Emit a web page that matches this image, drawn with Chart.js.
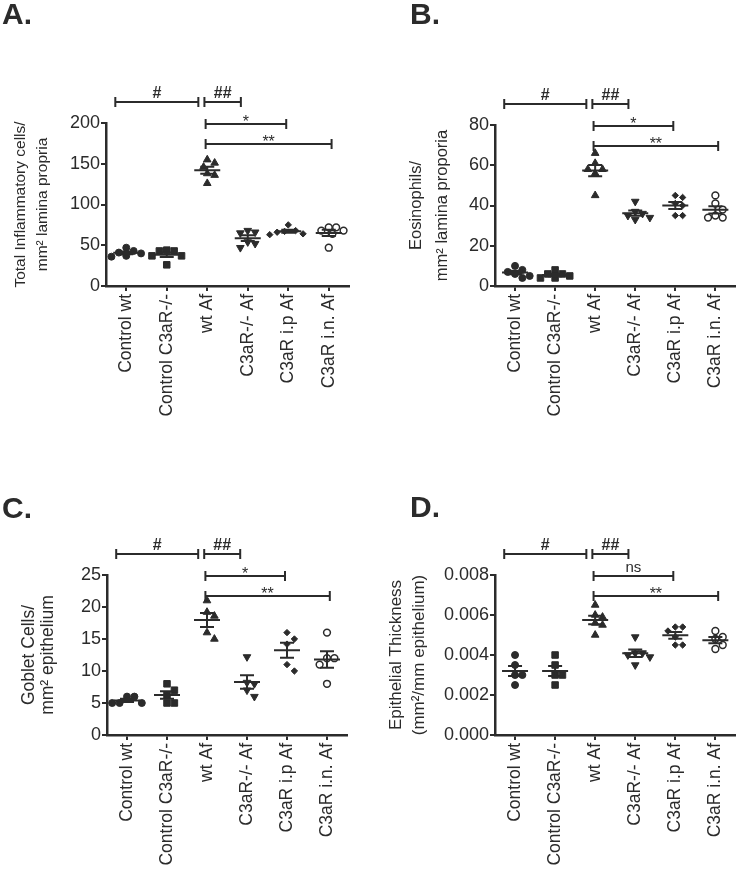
<!DOCTYPE html>
<html>
<head>
<meta charset="utf-8">
<script src="https://cdn.jsdelivr.net/npm/chart.js@4.4.0/dist/chart.umd.min.js"></script>
<style>
  html, body { margin: 0; padding: 0; background: #fff; }
  #wrap { position: relative; width: 741px; height: 869px; }
  canvas { position: absolute; }
</style>
</head>
<body>
<div id="wrap">
  <canvas id="chartA" width="370" height="440" style="left:0;top:0"></canvas>
  <canvas id="chartB" width="371" height="440" style="left:370px;top:0"></canvas>
  <canvas id="chartC" width="370" height="429" style="left:0;top:440px"></canvas>
  <canvas id="chartD" width="371" height="429" style="left:370px;top:440px"></canvas>
</div>
<script>
// groups on the x axis
const groupLabels = ["Control wt", "Control C3aR-/-", "wt Af", "C3aR-/- Af", "C3aR i.p Af", "C3aR i.n. Af"];

// one list of animals per group
const totalInflammatory = [
  [47, 43, 41, 40, 37, 36],
  [43, 44, 43, 37, 37, 26],
  [151, 155, 146, 138, 136, 126],
  [66, 65, 68, 54, 52, 47],
  [75, 68, 67, 66, 64, 63],
  [68, 72, 72, 68, 64, 47]
];
const eosinophils = [
  [10, 8, 7, 6, 5, 4],
  [8, 6, 6, 5, 4, 4],
  [66, 61, 58, 58, 56, 45],
  [42, 37, 36, 35, 34, 33],
  [45, 44, 41, 40, 35, 35],
  [45, 41, 38, 35, 34, 34]
];
const gobletCells = [
  [6, 6, 5, 5, 5],
  [8, 7, 6.2, 5, 5],
  [21, 19.2, 18.6, 16, 15],
  [12.2, 8.2, 8, 7, 6],
  [16, 15, 14.2, 11, 10],
  [16, 12, 12, 11, 8]
];
const epithelialThickness = [
  [0.0040, 0.0035, 0.0030, 0.0030, 0.0025],
  [0.0040, 0.0035, 0.0030, 0.0030, 0.0025],
  [0.0065, 0.0060, 0.0059, 0.0056, 0.0055, 0.0050],
  [0.0049, 0.0041, 0.0041, 0.0040, 0.0039, 0.0035],
  [0.0054, 0.0054, 0.0052, 0.0049, 0.0045, 0.0045],
  [0.0052, 0.0049, 0.0048, 0.0045, 0.0043]
];

const INK = "#2b2b2b";
const FONT = 'Arial, "Liberation Sans", Helvetica, sans-serif';

// marker per group
const markers = [
  { style: "circle", r: 3.5, fill: INK, bw: 1 },
  { style: "rect", r: 4.6, fill: INK, bw: 1 },
  { style: "triangle", r: 4.4, fill: INK, bw: 1 },
  { style: "triangle", r: 4.4, rot: 180, fill: INK, bw: 1 },
  { style: "rectRot", r: 3.2, fill: INK, bw: 1 },
  { style: "circle", r: 3.4, fill: "#fff", bw: 1.5 }
];

// spread points that would overlap sideways (pixels -> category units)
function swarm(vals, pxY, pxX) {
  const D = 7.4, step = 3.7;
  const placed = [];
  const out = new Array(vals.length);
  const order = vals.map((v, i) => i).sort((a, b) => vals[b] - vals[a]);
  order.forEach(i => {
    const yp = vals[i] * pxY;
    for (let k = 0; k < 40; k++) {
      const off = (k % 2 ? 1 : -1) * Math.ceil(k / 2) * step;
      if (placed.every(p => (p.x - off) ** 2 + (p.y - yp) ** 2 >= D * D)) {
        placed.push({ x: off, y: yp });
        out[i] = off / pxX;
        break;
      }
    }
  });
  return out;
}

function meanSem(groups) {
  return {
    id: "meanSem",
    afterDatasetsDraw(chart) {
      const { ctx, scales: { x, y } } = chart;
      ctx.save();
      ctx.strokeStyle = INK;
      ctx.lineWidth = 2;
      groups.forEach((vals, i) => {
        const n = vals.length;
        const mean = vals.reduce((a, b) => a + b, 0) / n;
        const sd = Math.sqrt(vals.reduce((a, b) => a + (b - mean) ** 2, 0) / (n - 1));
        const sem = sd / Math.sqrt(n);
        const cx = x.getPixelForValue(i);
        const ym = y.getPixelForValue(mean);
        const yt = y.getPixelForValue(mean + sem);
        const yb = y.getPixelForValue(mean - sem);
        ctx.beginPath();
        ctx.moveTo(cx - 13, ym); ctx.lineTo(cx + 13, ym);
        ctx.moveTo(cx - 7, yt); ctx.lineTo(cx + 7, yt);
        ctx.moveTo(cx - 7, yb); ctx.lineTo(cx + 7, yb);
        ctx.moveTo(cx, yt); ctx.lineTo(cx, yb);
        ctx.stroke();
      });
      ctx.restore();
    }
  };
}

function brackets(list, letter, lx, ly) {
  return {
    id: "brackets",
    afterDraw(chart) {
      const { ctx, chartArea, scales: { x } } = chart;
      ctx.save();
      ctx.strokeStyle = INK;
      ctx.fillStyle = INK;
      ctx.lineWidth = 2;
      ctx.textAlign = "center";
      ctx.textBaseline = "alphabetic";
      list.forEach(b => {
        const x1 = x.getPixelForValue(b.from);
        const x2 = x.getPixelForValue(b.to);
        const yy = chartArea.top + b.dy;
        ctx.beginPath();
        ctx.moveTo(x1, yy); ctx.lineTo(x2, yy);
        ctx.moveTo(x1, yy - 5); ctx.lineTo(x1, yy + 5);
        ctx.moveTo(x2, yy - 5); ctx.lineTo(x2, yy + 5);
        ctx.stroke();
        if (b.label[0] === "#") {
          ctx.font = "bold 16px " + FONT;
          ctx.fillText(b.label, (x1 + x2) / 2, yy - 4);
        } else if (b.label[0] === "*") {
          ctx.font = "16px " + FONT;
          ctx.fillText(b.label, (x1 + x2) / 2, yy + 2.5);
        } else {
          ctx.font = "15px " + FONT;
          ctx.fillText(b.label, (x1 + x2) / 2, yy - 4);
        }
      });
      ctx.font = "bold 30px " + FONT;
      ctx.textAlign = "left";
      ctx.fillText(letter, lx, ly);
      ctx.restore();
    }
  };
}

function sigList(third) {
  return [
    { from: -0.27, to: 1.78, dy: -21, label: "#" },
    { from: 1.93, to: 2.83, dy: -21, label: "##" },
    { from: 1.96, to: 3.95, dy: 1, label: third },
    { from: 1.96, to: 5.07, dy: 21, label: "**" }
  ];
}

function makePanel(p) {
  const canvas = document.getElementById(p.id);
  const W = canvas.width, H = canvas.height, a = p.area;
  const pxY = (a.bottom - a.top) / p.yMax;
  const pxX = (a.right - a.left) / groupLabels.length;

  const datasets = p.data.map((vals, i) => {
    const offs = swarm(vals, pxY, pxX);
    const m = markers[i];
    return {
      label: groupLabels[i],
      data: vals.map((v, j) => ({ x: i + offs[j], y: v })),
      pointStyle: m.style,
      pointRadius: m.r,
      pointRotation: m.rot || 0,
      pointBackgroundColor: m.fill,
      pointBorderColor: INK,
      pointBorderWidth: m.bw
    };
  });

  new Chart(canvas, {
    type: "scatter",
    data: { datasets },
    plugins: [meanSem(p.data), brackets(sigList(p.third), p.letter, p.lx, p.ly)],
    options: {
      responsive: false,
      animation: false,
      events: [],
      layout: { padding: { left: 0, top: a.top, right: W - a.right, bottom: 0 } },
      plugins: { legend: { display: false }, tooltip: { enabled: false } },
      scales: {
        x: {
          type: "linear",
          min: -0.5,
          max: 5.5,
          afterBuildTicks: s => { s.ticks = groupLabels.map((_, i) => ({ value: i })); },
          afterFit: s => { s.height = H - a.bottom; },
          ticks: {
            callback: v => groupLabels[v],
            minRotation: 90,
            maxRotation: 90,
            autoSkip: false,
            color: INK,
            padding: 3,
            font: { family: FONT, size: 17.5 }
          },
          grid: { drawOnChartArea: false, tickLength: 5, color: INK, lineWidth: 2 },
          border: { color: INK, width: 2.5 }
        },
        y: {
          min: 0,
          max: p.yMax,
          afterFit: s => { s.width = a.left; },
          ticks: {
            stepSize: p.step,
            color: INK,
            padding: 1,
            font: { family: FONT, size: 18 },
            callback: v => p.fmt(v)
          },
          grid: { drawOnChartArea: false, tickLength: 5, color: INK, lineWidth: 2 },
          border: { color: INK, width: 2.5 },
          title: {
            display: true,
            text: p.title,
            color: INK,
            font: { family: FONT, size: p.tSize, lineHeight: p.tLine + "px" },
            padding: { top: p.tPad, bottom: 0 }
          }
        }
      }
    }
  });
}

makePanel({
  id: "chartA", data: totalInflammatory, yMax: 200, step: 50, fmt: v => String(v),
  area: { left: 106, top: 123, right: 349, bottom: 286 },
  title: ["Total Inflammatory cells/", "mm\u00B2 lamina propria"], tSize: 15.5, tLine: 22, tPad: 9.5,
  letter: "A.", lx: 2, ly: 24, third: "*"
});
makePanel({
  id: "chartB", data: eosinophils, yMax: 80, step: 20, fmt: v => String(v),
  area: { left: 125, top: 125, right: 368, bottom: 286 },
  title: ["Eosinophils/", "mm\u00B2 lamina proporia"], tSize: 16.5, tLine: 26, tPad: 33,
  letter: "B.", lx: 40, ly: 24, third: "*"
});
makePanel({
  id: "chartC", data: gobletCells, yMax: 25, step: 5, fmt: v => String(v),
  area: { left: 107, top: 135, right: 347, bottom: 295 },
  title: ["Goblet Cells/", "mm\u00B2 epithelium"], tSize: 17.5, tLine: 19, tPad: 20,
  letter: "C.", lx: 2, ly: 78, third: "*"
});
makePanel({
  id: "chartD", data: epithelialThickness, yMax: 0.008, step: 0.002, fmt: v => v.toFixed(3),
  area: { left: 125, top: 135, right: 367, bottom: 295 },
  title: ["Epithelial Thickness", "(mm\u00B2/mm epithelium)"], tSize: 17, tLine: 23, tPad: 15,
  letter: "D.", lx: 40, ly: 77, third: "ns"
});
</script>
</body>
</html>
